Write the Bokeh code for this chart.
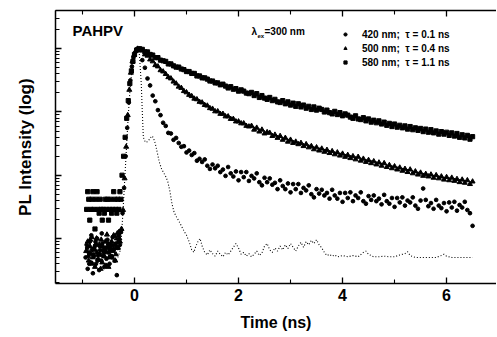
from bokeh.plotting import figure
from bokeh.models import (FixedTicker, LogTicker, LinearAxis, Label, Legend, LegendItem,
                          Range1d, CustomJSTickFormatter)
from bokeh.embed import file_html
from bokeh.resources import INLINE

FONT = "Liberation Sans"

# ---------------- data (log10 of normalised PL intensity) ----------------
TIME_DECAY = [
    0.10, 0.15, 0.20, 0.25, 0.30, 0.35, 0.40, 0.45, 0.50, 0.55,
    0.60, 0.65, 0.70, 0.75, 0.80, 0.85, 0.90, 0.95, 1.00, 1.05,
    1.10, 1.15, 1.20, 1.25, 1.30, 1.35, 1.40, 1.45, 1.50, 1.55,
    1.60, 1.65, 1.70, 1.75, 1.80, 1.85, 1.90, 1.95, 2.00, 2.05,
    2.10, 2.15, 2.20, 2.25, 2.30, 2.35, 2.40, 2.45, 2.50, 2.55,
    2.60, 2.65, 2.70, 2.75, 2.80, 2.85, 2.90, 2.95, 3.00, 3.05,
    3.10, 3.15, 3.20, 3.25, 3.30, 3.35, 3.40, 3.45, 3.50, 3.55,
    3.60, 3.65, 3.70, 3.75, 3.80, 3.85, 3.90, 3.95, 4.00, 4.05,
    4.10, 4.15, 4.20, 4.25, 4.30, 4.35, 4.40, 4.45, 4.50, 4.55,
    4.60, 4.65, 4.70, 4.75, 4.80, 4.85, 4.90, 4.95, 5.00, 5.05,
    5.10, 5.15, 5.20, 5.25, 5.30, 5.35, 5.40, 5.45, 5.50, 5.55,
    5.60, 5.65, 5.70, 5.75, 5.80, 5.85, 5.90, 5.95, 6.00, 6.05,
    6.10, 6.15, 6.20, 6.25, 6.30, 6.35, 6.40, 6.45, 6.50,
]

LOG_580 = [
    0.00, -0.01, -0.05, -0.05, -0.09, -0.10, -0.14, -0.14, -0.18, -0.19,
    -0.20, -0.24, -0.24, -0.27, -0.29, -0.29, -0.32, -0.33, -0.36, -0.36,
    -0.39, -0.39, -0.43, -0.43, -0.46, -0.46, -0.48, -0.51, -0.51, -0.54,
    -0.54, -0.57, -0.56, -0.59, -0.62, -0.60, -0.64, -0.63, -0.67, -0.65,
    -0.67, -0.70, -0.71, -0.69, -0.74, -0.71, -0.77, -0.74, -0.78, -0.80,
    -0.77, -0.82, -0.80, -0.84, -0.85, -0.82, -0.87, -0.84, -0.89, -0.86,
    -0.91, -0.87, -0.92, -0.89, -0.94, -0.91, -0.96, -0.92, -0.97, -0.94,
    -0.96, -1.00, -0.97, -1.01, -1.03, -0.99, -1.04, -1.01, -1.06, -1.03,
    -1.05, -1.08, -1.10, -1.06, -1.11, -1.12, -1.09, -1.14, -1.11, -1.16,
    -1.13, -1.17, -1.14, -1.19, -1.16, -1.21, -1.18, -1.23, -1.19, -1.24,
    -1.21, -1.25, -1.22, -1.27, -1.23, -1.28, -1.25, -1.29, -1.26, -1.31,
    -1.27, -1.32, -1.28, -1.33, -1.30, -1.35, -1.31, -1.35, -1.32, -1.37,
    -1.33, -1.38, -1.34, -1.40, -1.36, -1.41, -1.37, -1.43, -1.39,
]

LOG_500 = [
    -0.01, -0.03, -0.09, -0.11, -0.17, -0.20, -0.26, -0.28, -0.34, -0.36,
    -0.40, -0.45, -0.47, -0.52, -0.55, -0.60, -0.62, -0.67, -0.69, -0.73,
    -0.75, -0.79, -0.80, -0.84, -0.85, -0.89, -0.90, -0.94, -0.95, -0.99,
    -0.99, -1.03, -1.03, -1.07, -1.07, -1.11, -1.11, -1.15, -1.15, -1.18,
    -1.18, -1.22, -1.23, -1.22, -1.28, -1.25, -1.31, -1.28, -1.34, -1.32,
    -1.33, -1.38, -1.36, -1.41, -1.38, -1.44, -1.41, -1.47, -1.44, -1.49,
    -1.47, -1.51, -1.49, -1.54, -1.51, -1.56, -1.54, -1.59, -1.56, -1.61,
    -1.58, -1.63, -1.60, -1.65, -1.62, -1.67, -1.64, -1.69, -1.66, -1.71,
    -1.68, -1.73, -1.70, -1.75, -1.71, -1.77, -1.74, -1.79, -1.76, -1.81,
    -1.78, -1.83, -1.80, -1.85, -1.81, -1.87, -1.84, -1.89, -1.86, -1.91,
    -1.88, -1.93, -1.90, -1.95, -1.91, -1.97, -1.94, -1.99, -1.96, -2.01,
    -1.98, -2.02, -1.99, -2.04, -2.00, -2.05, -2.02, -2.07, -2.03, -2.08,
    -2.04, -2.09, -2.06, -2.11, -2.07, -2.12, -2.08, -2.14, -2.10,
]

LOG_420 = [
    -0.02, -0.18, -0.30, -0.47, -0.58, -0.74, -0.83, -0.97, -1.05, -1.17,
    -1.22, -1.33, -1.34, -1.44, -1.41, -1.49, -1.55, -1.54, -1.64, -1.61,
    -1.68, -1.65, -1.77, -1.74, -1.79, -1.75, -1.85, -1.90, -1.83, -1.89,
    -1.85, -1.95, -1.91, -2.01, -1.87, -1.97, -2.02, -1.94, -2.08, -1.95,
    -2.03, -1.95, -2.09, -2.01, -2.05, -1.97, -2.11, -2.16, -2.04, -2.11,
    -2.05, -2.15, -2.12, -2.22, -2.08, -2.17, -2.22, -2.13, -2.27, -2.14,
    -2.22, -2.14, -2.28, -2.20, -2.24, -2.16, -2.30, -2.35, -2.22, -2.29,
    -2.23, -2.32, -2.28, -2.37, -2.23, -2.32, -2.37, -2.28, -2.42, -2.28,
    -2.36, -2.27, -2.41, -2.32, -2.36, -2.27, -2.41, -2.45, -2.33, -2.39,
    -2.32, -2.41, -2.37, -2.46, -2.31, -2.41, -2.45, -2.36, -2.50, -2.36,
    -2.43, -2.35, -2.48, -2.40, -2.43, -2.35, -2.48, -2.53, -2.40, -2.21,
    -2.39, -2.49, -2.44, -2.53, -2.39, -2.48, -2.52, -2.44, -2.57, -2.43,
    -2.51, -2.42, -2.56, -2.47, -2.51, -2.42, -2.55, -2.60, -2.80,
]

# background before excitation + rising edge
TIME_580_PRE = [-0.92, -0.90, -0.88, -0.86, -0.84, -0.82, -0.80, -0.78, -0.76, -0.74,
                -0.72, -0.70, -0.68, -0.66, -0.64, -0.62, -0.60, -0.58, -0.56, -0.54,
                -0.52, -0.50, -0.48, -0.46, -0.44, -0.42, -0.40, -0.38, -0.36, -0.34,
                -0.32, -0.30, -0.28, -0.26, -0.24, -0.21, -0.18, -0.15, -0.12, -0.09,
                -0.06, -0.03, 0.00, 0.04]
LOG_580_PRE = [-2.54, -2.26, -2.38, -2.71, -2.54, -2.38, -2.26, -2.54, -2.85, -2.38,
               -2.26, -2.54, -2.60, -2.38, -2.54, -2.71, -2.54, -2.60, -2.38, -2.54,
               -2.38, -2.71, -2.54, -2.38, -2.60, -2.54, -2.26, -2.38, -2.54, -2.60,
               -2.38, -2.54, -2.26, -2.38, -2.00, -1.70, -1.40, -1.10, -0.82, -0.55,
               -0.35, -0.20, -0.09, -0.02]

TIME_500_PRE = [-0.93, -0.90, -0.88, -0.86, -0.84, -0.82, -0.80, -0.78, -0.76, -0.74,
                -0.72, -0.70, -0.68, -0.66, -0.64, -0.62, -0.60, -0.58, -0.56, -0.54,
                -0.52, -0.50, -0.48, -0.46, -0.44, -0.42, -0.40, -0.38, -0.36, -0.34,
                -0.32, -0.30, -0.28, -0.25, -0.22, -0.19, -0.16, -0.13, -0.10, -0.07,
                -0.04, -0.01, 0.03, 0.06,
                -0.89, -0.85, -0.81, -0.77, -0.73, -0.69, -0.65, -0.61, -0.57, -0.53,
                -0.49, -0.45, -0.41, -0.37, -0.33, -0.29]
LOG_500_PRE = [-3.20, -3.05, -3.35, -3.12, -3.25, -2.98, -3.30, -3.15, -3.45, -3.08,
               -3.22, -3.32, -3.10, -3.25, -3.02, -3.38, -3.18, -3.28, -3.05, -3.22,
               -3.12, -3.45, -3.15, -3.28, -3.05, -3.20, -2.95, -3.10, -3.25, -3.00,
               -3.15, -2.90, -3.05, -2.85, -2.55, -2.05, -1.55, -1.05, -0.65, -0.38,
               -0.20, -0.10, -0.03, 0.00,
               -3.28, -3.02, -3.40, -3.18, -3.00, -3.26, -3.48, -3.12, -3.20, -2.94,
               -3.30, -3.08, -3.16, -3.35, -2.92, -3.00]

TIME_420_PRE = [-0.94, -0.92, -0.90, -0.88, -0.86, -0.84, -0.82, -0.80, -0.78, -0.76,
                -0.74, -0.72, -0.70, -0.68, -0.66, -0.64, -0.62, -0.60, -0.58, -0.56,
                -0.54, -0.52, -0.50, -0.48, -0.46, -0.44, -0.42, -0.40, -0.38, -0.36,
                -0.34, -0.32, -0.30, -0.28, -0.26, -0.23, -0.20, -0.17, -0.14, -0.11,
                -0.08, -0.05, -0.02, 0.02, 0.05,
                -0.91, -0.87, -0.83, -0.79, -0.75, -0.71, -0.67, -0.63, -0.59, -0.55,
                -0.51, -0.47, -0.43, -0.39, -0.35, -0.31, -0.27]
LOG_420_PRE = [-3.30, -3.10, -3.48, -3.22, -3.05, -3.38, -3.18, -3.55, -3.28, -3.12,
               -3.40, -3.00, -3.25, -3.50, -3.18, -3.35, -3.08, -3.28, -3.45, -3.15,
               -3.32, -3.02, -3.22, -3.40, -3.12, -3.28, -2.98, -3.18, -3.35, -3.08,
               -3.58, -3.15, -2.95, -3.10, -2.90, -2.60, -2.20, -1.70, -1.25, -0.85,
               -0.50, -0.28, -0.14, -0.05, 0.00,
               -3.15, -3.40, -2.95, -3.25, -3.05, -3.35, -3.12, -2.92, -3.22, -3.42,
               -3.08, -3.18, -3.30, -2.96, -3.14, -3.05, -2.88]

# instrument response (dotted)
TIME_IRF = [-0.32, -0.28, -0.25, -0.22, -0.19, -0.16, -0.13, -0.10, -0.07, -0.04,
            -0.01, 0.03, 0.07, 0.09, 0.11, 0.13, 0.15, 0.17, 0.21, 0.25,
            0.29, 0.33, 0.36, 0.40, 0.44, 0.48, 0.52, 0.56, 0.60, 0.64,
            0.68, 0.72, 0.76, 0.80, 0.85, 0.90, 0.95, 1.00, 1.05, 1.10,
            1.14, 1.18, 1.22, 1.26, 1.30, 1.35, 1.40, 1.45, 1.50, 1.55,
            1.60, 1.65, 1.70, 1.75, 1.80, 1.85, 1.90, 1.95, 2.00, 2.05,
            2.10, 2.15, 2.20, 2.25, 2.30, 2.35, 2.40, 2.45, 2.50, 2.55,
            2.60, 2.65, 2.70, 2.75, 2.80, 2.85, 2.90, 2.95, 3.00, 3.05,
            3.10, 3.15, 3.20, 3.25, 3.30, 3.35, 3.40, 3.45, 3.50, 3.55,
            3.60, 3.65, 3.70, 3.75, 3.80, 3.85, 3.90, 4.00, 4.10, 4.20,
            4.30, 4.40, 4.45, 4.50, 4.60, 4.70, 4.80, 4.90, 5.00, 5.10,
            5.20, 5.25, 5.30, 5.40, 5.60, 5.80, 5.90, 5.95, 6.00, 6.10,
            6.30, 6.50]
LOG_IRF = [-3.30, -3.20, -2.95, -2.55, -2.10, -1.65, -1.20, -0.80, -0.50, -0.30,
           -0.15, -0.05, 0.00, -0.05, -0.30, -0.55, -1.00, -1.40, -1.48, -1.47,
           -1.43, -1.38, -1.40, -1.50, -1.65, -1.80, -1.90, -1.96, -2.02, -2.10,
           -2.25, -2.45, -2.58, -2.65, -2.72, -2.80, -2.88, -2.95, -3.05, -3.18,
           -3.22, -3.12, -3.05, -3.00, -3.12, -3.22, -3.26, -3.18, -3.24, -3.28,
           -3.20, -3.25, -3.29, -3.22, -3.26, -3.20, -3.14, -3.08, -3.15, -3.25,
           -3.22, -3.28, -3.24, -3.29, -3.25, -3.20, -3.27, -3.23, -3.12, -3.08,
           -3.18, -3.22, -3.15, -3.20, -3.12, -3.18, -3.10, -3.16, -3.08, -3.14,
           -3.20, -3.12, -3.06, -3.14, -3.05, -3.10, -3.03, -3.08, -3.02, -3.10,
           -3.15, -3.22, -3.27, -3.25, -3.28, -3.26, -3.29, -3.27, -3.29, -3.27,
           -3.29, -3.22, -3.20, -3.25, -3.29, -3.29, -3.28, -3.29, -3.29, -3.26,
           -3.24, -3.21, -3.27, -3.30, -3.30, -3.30, -3.27, -3.25, -3.28, -3.30,
           -3.30, -3.30]

X_MAJOR = [0, 2, 4, 6]
X_MINOR = [-1, 1, 3, 5]
LEGEND_LABELS = ["420 nm;  \u03c4 = 0.1 ns", "500 nm;  \u03c4 = 0.4 ns", "580 nm;  \u03c4 = 1.1 ns"]


def lin(vals):
    return [10 ** v for v in vals]


p = figure(width=496, height=336, output_backend="svg", toolbar_location=None,
           y_axis_type="log",
           x_range=Range1d(-1.519, 6.96),
           y_range=Range1d(10 ** -3.712, 10 ** 0.605),
           min_border_left=55, min_border_right=0, min_border_top=10, min_border_bottom=53)
p.outline_line_color = None
p.grid.visible = False
p.background_fill_color = "white"

# IRF dotted line
p.line(TIME_IRF, lin(LOG_IRF), line_color="black", line_width=1.1, line_dash="1 2")

r420 = p.scatter(TIME_420_PRE + TIME_DECAY, lin(LOG_420_PRE + LOG_420), marker="circle",
                 size=3.7, color="black")
r500 = p.scatter(TIME_500_PRE + TIME_DECAY, lin(LOG_500_PRE + LOG_500), marker="triangle",
                 size=5.0, color="black")
r580 = p.scatter(TIME_580_PRE + TIME_DECAY, lin(LOG_580_PRE + LOG_580), marker="square",
                 size=4.2, color="black")

# axes
xa = p.xaxis[0]
xa.ticker = FixedTicker(ticks=X_MAJOR, minor_ticks=X_MINOR)
ya = p.yaxis[0]
ya.ticker = LogTicker(num_minor_ticks=10)
ya.formatter = CustomJSTickFormatter(code="return ''")
ya.major_label_text_font_size = "1px"
ya.major_label_standoff = 0

for ax in (xa, ya):
    ax.axis_line_width = 1.5
    ax.axis_line_color = "black"
    ax.major_tick_in = 6
    ax.major_tick_out = 0
    ax.minor_tick_in = 4
    ax.minor_tick_out = 0
    ax.major_tick_line_width = 1.3
    ax.minor_tick_line_width = 1.1
    ax.major_tick_line_color = "black"
    ax.minor_tick_line_color = "black"
    ax.axis_label_text_font = FONT
    ax.axis_label_text_font_style = "bold"
    ax.axis_label_text_color = "black"

xa.major_label_text_font = FONT
xa.major_label_text_font_style = "bold"
xa.major_label_text_font_size = "16px"
xa.major_label_text_color = "black"
xa.major_label_standoff = 5
xa.axis_label = "Time (ns)"
xa.axis_label_text_font_size = "16px"
xa.axis_label_standoff = 10

ya.axis_label = "PL Intensity (log)"
ya.axis_label_text_font_size = "17px"
ya.axis_label_standoff = 21

top = LinearAxis(ticker=FixedTicker(ticks=X_MAJOR, minor_ticks=X_MINOR),
                 formatter=CustomJSTickFormatter(code="return ''"),
                 major_label_text_font_size="1px", major_label_standoff=0,
                 axis_line_width=1.5, major_tick_in=6, major_tick_out=0,
                 minor_tick_in=4, minor_tick_out=0,
                 major_tick_line_width=1.3, minor_tick_line_width=1.1)
p.add_layout(top, "above")

# annotations inside the frame (screen units relative to frame)
def note(x, y, text, size):
    p.add_layout(Label(x=x, y=y, x_units="screen", y_units="screen", text=text,
                       text_align="left", text_baseline="middle", text_color="black",
                       text_font=FONT, text_font_style="bold", text_font_size=size))

note(17, 253, "PAHPV", "15px")
note(196, 252, "\u03bb", "10px")
note(202, 248, "ex", "6px")
note(209, 252, "=300 nm", "10px")

legend = Legend(items=[LegendItem(label=LEGEND_LABELS[0], renderers=[r420]),
                       LegendItem(label=LEGEND_LABELS[1], renderers=[r500]),
                       LegendItem(label=LEGEND_LABELS[2], renderers=[r580])],
                location=(286, 214), orientation="vertical",
                border_line_color=None, background_fill_alpha=0,
                padding=0, margin=0, spacing=0,
                glyph_width=8, glyph_height=14, label_height=14,
                label_standoff=13, label_text_color="black",
                label_text_font=FONT, label_text_font_style="bold",
                label_text_font_size="10px")
p.add_layout(legend, "center")

open("out.html", "w").write(file_html(p, INLINE))
